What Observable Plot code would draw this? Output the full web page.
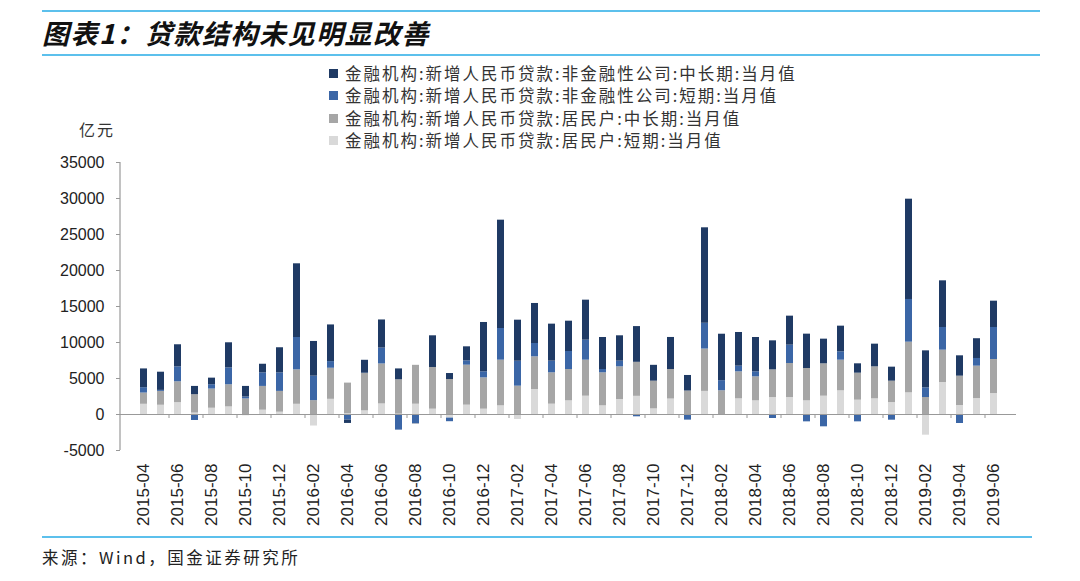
<!DOCTYPE html>
<html><head><meta charset="utf-8">
<script src="https://cdn.jsdelivr.net/npm/d3@7"></script>
<script src="https://cdn.jsdelivr.net/npm/@observablehq/plot@0.6"></script>
<style>
body{margin:0;background:#fff;width:1080px;height:581px;position:relative;overflow:hidden;font-family:"Noto Sans CJK SC",sans-serif;}
.rule{position:absolute;height:2px;background:#5cc0ec;}
#title{position:absolute;left:42px;top:15px;line-height:36px;font-size:27px;font-weight:bold;font-style:italic;color:#111;letter-spacing:1.5px;white-space:nowrap}
#legend{position:absolute;left:329px;top:62px;font-size:16.5px;color:#333;}
.li{height:22.5px;display:flex;align-items:center;white-space:nowrap;letter-spacing:2px}
.li .tx{display:inline-block;height:19px;line-height:19px;overflow:visible}
.sw{width:9px;height:9px;margin-right:7px;flex:none}
#unit{position:absolute;left:79px;top:117px;font-size:16px;color:#333;letter-spacing:2px}
#chart{position:absolute;left:0;top:150px;}
#source{position:absolute;left:42px;top:545px;font-size:16.5px;color:#222;white-space:nowrap;letter-spacing:2.5px}
</style></head><body>
<div class="rule" style="left:42px;top:10px;width:998px"></div>
<div id="title">图表1：贷款结构未见明显改善</div>
<div class="rule" style="left:42px;top:54px;width:998px"></div>
<div id="legend"></div>
<div id="unit">亿元</div>
<div id="chart"></div>
<div class="rule" style="left:42px;top:536px;width:990px"></div>
<div id="source">来源：Wind，国金证券研究所</div>
<script>
const months = ["2015-04","2015-05","2015-06","2015-07","2015-08","2015-09","2015-10","2015-11","2015-12",
"2016-01","2016-02","2016-03","2016-04","2016-05","2016-06","2016-07","2016-08","2016-09","2016-10","2016-11","2016-12",
"2017-01","2017-02","2017-03","2017-04","2017-05","2017-06","2017-07","2017-08","2017-09","2017-10","2017-11","2017-12",
"2018-01","2018-02","2018-03","2018-04","2018-05","2018-06","2018-07","2018-08","2018-09","2018-10","2018-11","2018-12",
"2019-01","2019-02","2019-03","2019-04","2019-05","2019-06"];

// 居民户:短期
const hhShort = [1420,1285,1650,200,870,1055,-180,600,320,1420,
 -1600,2110,100,505,1470,50,1430,740,-500,1300,
 740,1205,-690,3470,1435,1900,2545,1205,2085,2525,
 780,2150,0,3210,-100,2175,1900,2360,2360,1900,
 2545,3290,1990,2175,1665,3010,-2870,4445,1250,2220,
 2915];
// 居民户:中长期
const hhLong = [1560,1925,2895,2550,2665,3075,2160,3300,2890,4780,
 1930,4315,4260,5185,5550,4770,5400,5790,4860,5550,
 4350,6340,3935,4540,4355,4350,5000,4585,4535,4725,
 3850,4100,3260,5880,3300,3750,3330,3840,4725,4490,
 4495,4255,3750,4445,2965,7035,2360,4490,4075,4495,
 4725];
// 非金融性公司:短期
const corpShort = [740,140,2065,-830,595,2340,270,1880,2570,4495,
 3395,920,-780,50,2205,-2170,-1250,0,-500,600,
 835,4400,3465,1850,1620,2500,2780,460,790,-320,
 0,0,-780,3580,1400,790,695,-555,2545,-1020,
 -1710,1160,-1020,0,-790,5930,1345,3150,-1250,1065,
 4445];
// 非金融性公司:中长期
const corpLong = [2610,2525,3075,1150,920,3490,1470,1200,3490,10235,
 4820,5095,-460,1790,3905,1510,-50,4400,830,1950,
 6855,15045,5700,5560,5140,4210,5555,4445,3520,4960,
 2200,4450,2160,13260,6450,4675,4770,4030,4030,4770,
 3425,3565,1300,3150,1945,13930,5135,6480,2825,2745,
 3655];

const seriesNames = [
 "金融机构:新增人民币贷款:居民户:短期:当月值",
 "金融机构:新增人民币贷款:居民户:中长期:当月值",
 "金融机构:新增人民币贷款:非金融性公司:短期:当月值",
 "金融机构:新增人民币贷款:非金融性公司:中长期:当月值"
];
const seriesColors = ["#d9d9d9","#a6a6a6","#3b66a6","#1f3a64"];
const yTicks = [-5000,0,5000,10000,15000,20000,25000,30000,35000];
const xTickLabels = months.filter((d,i) => i % 2 === 0);

const seriesValues = [hhShort, hhLong, corpShort, corpLong];
const rows = [];
seriesNames.forEach((s, k) => months.forEach((m, i) => rows.push({month: m, series: s, value: seriesValues[k][i]})));

// legend (top-to-bottom reversed from stacking order)
const legend = document.getElementById("legend");
seriesNames.map((s,k)=>[s,seriesColors[k]]).reverse().forEach(([s,c]) => {
  const row = document.createElement("div"); row.className = "li";
  const sw = document.createElement("span"); sw.className = "sw"; sw.style.background = c;
  const t = document.createElement("span"); t.className = "tx"; t.textContent = s;
  row.append(sw, t); legend.append(row);
});

const yAxisLine = (index, scales, values, dims) => {
  const g = d3.create("svg:g");
  g.append("line")
    .attr("x1", dims.marginLeft).attr("x2", dims.marginLeft)
    .attr("y1", scales.y(yTicks[yTicks.length-1])).attr("y2", scales.y(yTicks[0]))
    .attr("stroke", "#999").attr("stroke-width", 1.2);
  return g.node();
};
const xTickMarks = (index, scales, values, dims) => {
  const g = d3.create("svg:g");
  const bw = scales.x.bandwidth();
  const y0 = scales.y(0);
  months.forEach((m, i) => {
    if (i > 0 && i % 2 === 0) {
      const xm = (scales.x(months[i-1]) + bw + scales.x(m)) / 2;
      g.append("line").attr("x1", xm).attr("x2", xm).attr("y1", y0).attr("y2", y0 + 4)
        .attr("stroke", "#999").attr("stroke-width", 1);
    }
  });
  return g.node();
};

const chart = Plot.plot({
  width: 1080,
  height: 390,
  marginLeft: 120,
  marginRight: 64,
  marginTop: 12,
  marginBottom: 90,
  style: {fontFamily: "'Liberation Sans', Arial, sans-serif", fontSize: "16px", color: "#222", background: "transparent", overflow: "visible"},
  x: {type: "band", domain: months, paddingInner: 0.6, paddingOuter: 0.31, label: null},
  y: {domain: [yTicks[0], yTicks[yTicks.length-1]], label: null},
  color: {domain: seriesNames, range: seriesColors},
  marks: [
    Plot.barY(rows, {x: "month", y: "value", fill: "series"}),
    Plot.ruleY([0], {stroke: "#999", strokeWidth: 1.2}),
    yAxisLine,
    xTickMarks,
    Plot.axisY(yTicks, {tickSize: 4, tickPadding: 12, fontSize: 16, stroke: "#999", fill: "#222", tickFormat: d => String(d), label: null}),
    Plot.axisX(xTickLabels, {anchor: "bottom", tickRotate: -90, tickSize: 0, tickPadding: 13, fontSize: 17, fill: "#222", label: null})
  ]
});
document.getElementById("chart").append(chart);
</script>
</body></html>
